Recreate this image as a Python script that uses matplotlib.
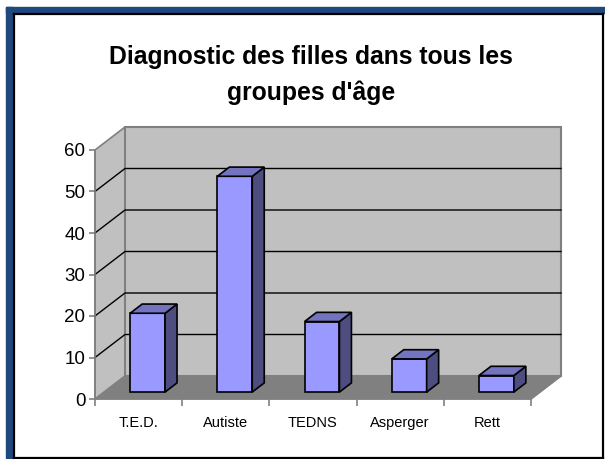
import numpy as np
import matplotlib
matplotlib.use("Agg")
import matplotlib.pyplot as plt
from matplotlib.patches import Polygon, Rectangle
from matplotlib.lines import Line2D

categories = ["T.E.D.", "Autiste", "TEDNS", "Asperger", "Rett"]
values = [19, 52, 17, 8, 4]
yticks = [0, 10, 20, 30, 40, 50, 60]
title = "Diagnostic des filles dans tous les\ngroupes d'âge"

plt.rcParams['font.family'] = ['Liberation Sans', 'DejaVu Sans']

W, H = 605, 459
fig = plt.figure(figsize=(W / 100, H / 100), dpi=100)

def px(x, y):
    # pixel (top-left origin) -> figure fraction
    return x / W, 1 - y / H

# frame: blue on top/left, black inner line
for (x0, y0, x1, y1) in [(6, 6.7, 605, 13.3), (6, 6.7, 13.3, 459)]:
    fx0, fy1 = px(x0, y0)
    fx1, fy0 = px(x1, y1)
    fig.patches.append(Rectangle((fx0, fy0), fx1 - fx0, fy1 - fy0,
                                 transform=fig.transFigure, color='#1F497D', zorder=0))
for (x0, y0, x1, y1) in [(14, 14, 14, 457.5), (14, 14, 603, 14),
                         (603, 14, 603, 457.5), (14, 457.5, 603, 457.5)]:
    a = px(x0, y0)
    b = px(x1, y1)
    fig.lines.append(Line2D([a[0], b[0]], [a[1], b[1]], transform=fig.transFigure,
                            color='black', lw=1.6, zorder=1))

# front plane of the plot: x 95..531 px, y 399 (0) .. 150 (60)
l, b = px(95, 399)
r, t = px(531, 150)
ax = fig.add_axes([l, b, r - l, t - b])
n = len(categories)
ax.set_xlim(-0.5, n - 0.5)
ax.set_ylim(0, 60)
ax.patch.set_visible(False)

# depth offset for d=1 in data units (30 px right, 23 px up)
ddx = 30 / 87.2
ddy = 23 / (249 / 60)

def P(x, v, d):
    return (x + d * ddx, v + d * ddy)

def face(pts, fc, ec, lw=1.0, z=1):
    ax.add_patch(Polygon([P(*p) for p in pts], closed=True, facecolor=fc,
                         edgecolor=ec, lw=lw, clip_on=False, zorder=z))

x0, x1 = -0.5, n - 0.5
ymax = yticks[-1]
# walls and floor
face([(x0, 0, 0), (x0, 0, 1), (x0, ymax, 1), (x0, ymax, 0)], '#C0C0C0', '#808080', 1.2)
face([(x0, 0, 1), (x1, 0, 1), (x1, ymax, 1), (x0, ymax, 1)], '#C0C0C0', '#808080', 1.5)
face([(x0, 0, 0), (x1, 0, 0), (x1, 0, 1), (x0, 0, 1)], '#808080', '#808080', 0.8)

# gridlines on back and side walls
for v in yticks[1:-1]:
    xs = [P(x0, v, 0)[0], P(x0, v, 1)[0], P(x1, v, 1)[0]]
    ys = [P(x0, v, 0)[1], P(x0, v, 1)[1], P(x1, v, 1)[1]]
    ax.plot(xs, ys, color='black', lw=1.0, clip_on=False, zorder=2)

# bars
bw = 0.4
d0, d1 = 0.3, 0.7
for i, v in enumerate(values):
    a, c = i - bw / 2, i + bw / 2
    face([(a, 0, d0), (c, 0, d0), (c, v, d0), (a, v, d0)], '#9999FF', 'black', 1.2, 3)
    face([(c, 0, d0), (c, 0, d1), (c, v, d1), (c, v, d0)], '#4D4D80', 'black', 1.2, 3)
    face([(a, v, d0), (c, v, d0), (c, v, d1), (a, v, d1)], '#7373BF', 'black', 1.2, 3)

# axes lines
for s in ['top', 'right']:
    ax.spines[s].set_visible(False)
ax.spines['left'].set_color('#808080')
ax.spines['bottom'].set_color('#808080')
ax.spines['left'].set_linewidth(1.2)
ax.spines['bottom'].set_linewidth(1.2)
e0, e1 = P(x1, 0, 0), P(x1, 0, 1)
ax.plot([e0[0], e1[0]], [e0[1], e1[1]], color='#808080', lw=1.2, clip_on=False, zorder=2)

ax.set_yticks(yticks)
ax.tick_params(axis='y', length=4, width=1.2, color='#808080', labelsize=13.5, pad=3)
ax.set_xticks(range(n))
ax.set_xticklabels(categories)
ax.set_xticks(np.arange(-0.5, n), minor=True)
ax.tick_params(axis='x', which='major', length=0, labelsize=10.5, pad=12)
ax.tick_params(axis='x', which='minor', length=5, width=1.2, color='#808080')

ttx, tty = px(311, 75)
fig.text(ttx, tty, title, ha='center', va='center', fontsize=17.8,
         fontweight='bold', linespacing=1.55)

fig.savefig("out.png", dpi=100)
